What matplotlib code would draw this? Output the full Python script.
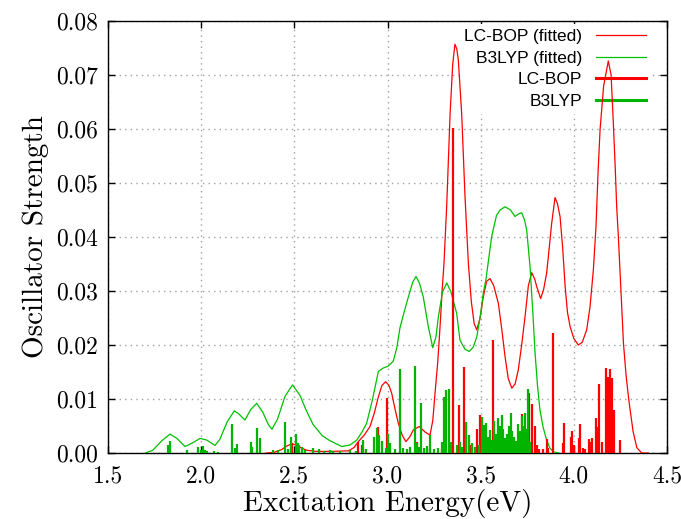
import matplotlib
matplotlib.use("Agg")
import matplotlib.pyplot as plt
from matplotlib.ticker import FormatStrFormatter

# fitted (broadened) spectra
lcbop_fit_x = [2.35, 2.39, 2.43, 2.46, 2.486, 2.51, 2.54, 2.566, 2.62, 2.70, 2.79, 2.82,
               2.843, 2.875, 2.906, 2.93, 2.951, 2.97, 2.990, 3.008, 3.023, 3.04, 3.058,
               3.08, 3.099, 3.12, 3.139, 3.171, 3.201, 3.228, 3.243, 3.255, 3.27, 3.282,
               3.293, 3.303, 3.318, 3.336, 3.350, 3.362, 3.372, 3.380, 3.398, 3.416,
               3.434, 3.45, 3.465, 3.479, 3.497, 3.514, 3.532, 3.550, 3.57, 3.595, 3.613,
               3.631, 3.648, 3.667, 3.685, 3.702, 3.72, 3.738, 3.756, 3.774, 3.790,
               3.801, 3.822, 3.838, 3.854, 3.868, 3.881, 3.899, 3.912, 3.926, 3.940,
               3.953, 3.966, 3.980, 4.00, 4.024, 4.045, 4.069, 4.087, 4.105, 4.119,
               4.13, 4.141, 4.160, 4.185, 4.200, 4.212, 4.222, 4.230, 4.239, 4.257,
               4.266, 4.280, 4.293, 4.302, 4.318, 4.338, 4.364, 4.40]
lcbop_fit_y = [0.0, 0.0001, 0.0006, 0.0013, 0.0017, 0.0015, 0.0009, 0.0005, 0.0003, 0.0003,
               0.0004, 0.0010, 0.0021, 0.0033, 0.0049, 0.0075, 0.0104, 0.0125, 0.0132,
               0.0125, 0.0110, 0.0082, 0.0055, 0.0032, 0.0021, 0.0030, 0.0043, 0.0049,
               0.0039, 0.0033, 0.0060, 0.0110, 0.0170, 0.0234, 0.0300, 0.0350, 0.0460,
               0.0629, 0.0720, 0.0757, 0.0748, 0.0728, 0.0629, 0.0475, 0.0351, 0.0280,
               0.0240, 0.0228, 0.0250, 0.0289, 0.0318, 0.0323, 0.0310, 0.0277, 0.0230,
               0.0178, 0.0138, 0.0120, 0.0128, 0.0154, 0.0200, 0.0252, 0.0310, 0.0334,
               0.0322, 0.0308, 0.0286, 0.0303, 0.0333, 0.0380, 0.0425, 0.0473, 0.0462,
               0.0438, 0.0380, 0.0310, 0.0260, 0.0234, 0.0212, 0.0200, 0.0205, 0.0228,
               0.0271, 0.0340, 0.0420, 0.0520, 0.0600, 0.0680, 0.0726, 0.0700, 0.0611,
               0.0530, 0.0456, 0.0400, 0.0271, 0.0205, 0.0145, 0.0104, 0.0080, 0.0040,
               0.0010, 0.0, 0.0]

b3lyp_fit_x = [1.70, 1.74, 1.79, 1.833, 1.87, 1.913, 1.95, 1.994, 2.03, 2.074, 2.10, 2.14,
               2.178, 2.20, 2.235, 2.265, 2.298, 2.33, 2.36, 2.38, 2.41, 2.45, 2.490,
               2.53, 2.56, 2.60, 2.65, 2.69, 2.754, 2.80, 2.835, 2.865, 2.888, 2.92,
               2.951, 2.975, 3.004, 3.031, 3.05, 3.067, 3.09, 3.112, 3.135, 3.153, 3.172,
               3.192, 3.219, 3.243, 3.26, 3.273, 3.295, 3.318, 3.34, 3.371, 3.389, 3.416,
               3.439, 3.46, 3.479, 3.50, 3.514, 3.529, 3.559, 3.585, 3.604, 3.631, 3.66,
               3.684, 3.705, 3.720, 3.735, 3.747, 3.765, 3.78, 3.792, 3.805, 3.818,
               3.835, 3.854, 3.87, 3.89, 3.92]
b3lyp_fit_y = [0.0, 0.0005, 0.0023, 0.0035, 0.0027, 0.0012, 0.0018, 0.0027, 0.0024, 0.0014,
               0.0025, 0.0058, 0.0078, 0.0073, 0.0061, 0.0080, 0.0092, 0.0076, 0.0053,
               0.0044, 0.0063, 0.0105, 0.0126, 0.0107, 0.0082, 0.0053, 0.0032, 0.0023,
               0.0012, 0.0015, 0.0024, 0.0040, 0.0055, 0.0100, 0.0151, 0.0157, 0.0161,
               0.0170, 0.0195, 0.0232, 0.0262, 0.0289, 0.0316, 0.0327, 0.0314, 0.0289,
               0.0234, 0.0195, 0.0215, 0.0252, 0.0298, 0.0315, 0.0299, 0.0259, 0.0209,
               0.0192, 0.0188, 0.0196, 0.0215, 0.0258, 0.0296, 0.0323, 0.0401, 0.0440,
               0.0450, 0.0456, 0.0450, 0.0438, 0.0443, 0.0445, 0.0432, 0.0413, 0.0345,
               0.0260, 0.0185, 0.0125, 0.0080, 0.0048, 0.0024, 0.0010, 0.0002, 0.0]

# individual excitations (stick spectra)
lcbop_x = [2.486, 2.843, 2.861, 2.870, 2.951, 2.999, 3.010, 3.157, 3.230, 3.290, 3.352,
           3.386, 3.409, 3.420, 3.445, 3.479, 3.497, 3.510, 3.522, 3.568, 3.580, 3.620,
           3.640, 3.660, 3.700, 3.720, 3.761, 3.778, 3.790, 3.800, 3.815, 3.835, 3.854,
           3.862, 3.890, 3.940, 3.947, 3.983, 3.992, 4.002, 4.028, 4.033, 4.050, 4.060,
           4.083, 4.093, 4.100, 4.117, 4.123, 4.137, 4.150, 4.173, 4.183, 4.194, 4.207,
           4.216, 4.248]
lcbop_f = [0.0018, 0.0021, 0.0015, 0.0012, 0.0049, 0.0101, 0.0010, 0.0021, 0.0010, 0.0008,
           0.0602, 0.0089, 0.0159, 0.0030, 0.0015, 0.0045, 0.0070, 0.0035, 0.0025, 0.0209,
           0.0020, 0.0010, 0.0012, 0.0008, 0.0025, 0.0073, 0.0112, 0.0090, 0.0050, 0.0015,
           0.0008, 0.0008, 0.0026, 0.0010, 0.0223, 0.0019, 0.0056, 0.0030, 0.0041, 0.0015,
           0.0027, 0.0053, 0.0010, 0.0008, 0.0026, 0.0020, 0.0027, 0.0064, 0.0049, 0.0128,
           0.0020, 0.0158, 0.0141, 0.0155, 0.0138, 0.0080, 0.0024]

b3lyp_x = [1.822, 1.835, 1.926, 1.981, 1.999, 2.008, 2.021, 2.030, 2.069, 2.090, 2.164,
           2.182, 2.194, 2.266, 2.273, 2.298, 2.316, 2.384, 2.410, 2.450, 2.466, 2.480,
           2.509, 2.520, 2.527, 2.540, 2.555, 2.602, 2.630, 2.660, 2.692, 2.710, 2.745,
           2.799, 2.830, 2.870, 2.885, 2.927, 2.942, 2.956, 2.968, 2.990, 3.004, 3.013,
           3.040, 3.067, 3.085, 3.105, 3.120, 3.146, 3.157, 3.170, 3.180, 3.195, 3.210,
           3.228, 3.250, 3.270, 3.291, 3.302, 3.316, 3.330, 3.340, 3.371, 3.390, 3.400,
           3.421, 3.440, 3.452, 3.470, 3.490, 3.505, 3.518, 3.529, 3.540, 3.550, 3.560,
           3.572, 3.582, 3.595, 3.605, 3.613, 3.622, 3.630, 3.640, 3.652, 3.661, 3.670,
           3.680, 3.690, 3.702, 3.710, 3.720, 3.730, 3.738, 3.748, 3.756, 3.765]
b3lyp_f = [0.0015, 0.0023, 0.0005, 0.0012, 0.0006, 0.0013, 0.0006, 0.0004, 0.0004, 0.0002,
           0.0054, 0.0009, 0.0017, 0.0021, 0.0011, 0.0047, 0.0027, 0.0006, 0.0005, 0.0058,
           0.0008, 0.0029, 0.0036, 0.0018, 0.0015, 0.0012, 0.0006, 0.0009, 0.0007, 0.0004,
           0.0006, 0.0004, 0.0003, 0.0005, 0.0004, 0.0024, 0.0008, 0.0030, 0.0046, 0.0033,
           0.0022, 0.0010, 0.0036, 0.0018, 0.0008, 0.0155, 0.0010, 0.0008, 0.0012, 0.0161,
           0.0019, 0.0012, 0.0093, 0.0010, 0.0013, 0.0034, 0.0008, 0.0010, 0.0021, 0.0104,
           0.0116, 0.0118, 0.0020, 0.0014, 0.0021, 0.0012, 0.0058, 0.0033, 0.0018, 0.0012,
           0.0015, 0.0067, 0.0052, 0.0056, 0.0030, 0.0043, 0.0025, 0.0060, 0.0035, 0.0064,
           0.0050, 0.0070, 0.0045, 0.0028, 0.0035, 0.0050, 0.0075, 0.0040, 0.0030, 0.0022,
           0.0053, 0.0040, 0.0069, 0.0050, 0.0074, 0.0045, 0.0118, 0.0020]

xticks = [1.5, 2.0, 2.5, 3.0, 3.5, 4.0, 4.5]
yticks = [0.0, 0.01, 0.02, 0.03, 0.04, 0.05, 0.06, 0.07, 0.08]

red = '#ff0000'
green = '#00b400'

fig = plt.figure(figsize=(6.81, 5.19), dpi=100)
ax = fig.add_axes([108 / 681, 66 / 519, 559 / 681, 432 / 519])

ax.plot(lcbop_fit_x, lcbop_fit_y, color=red, lw=0.9, label='LC-BOP (fitted)', zorder=3)
ax.plot(b3lyp_fit_x, b3lyp_fit_y, color='#00c000', lw=0.9, label='B3LYP (fitted)', zorder=3)
ax.vlines(lcbop_x, 0, lcbop_f, color=red, lw=1.6, zorder=4)
ax.vlines(b3lyp_x, 0, b3lyp_f, color=green, lw=1.6, zorder=4)
# legend proxies for the thick stick series
ax.plot([], [], color=red, lw=2.2, label='LC-BOP')
ax.plot([], [], color=green, lw=2.2, label='B3LYP')

ax.set_xlim(1.5, 4.5)
ax.set_ylim(0, 0.08)
ax.set_xticks(xticks)
ax.set_yticks(yticks)
ax.xaxis.set_major_formatter(FormatStrFormatter('%.1f'))
ax.yaxis.set_major_formatter(FormatStrFormatter('%.2f'))
ax.tick_params(direction='in', top=True, right=True, length=5, width=1, labelsize=17)
ax.tick_params(axis='x', pad=9)
ax.tick_params(axis='y', pad=7)
for lbl in ax.get_xticklabels() + ax.get_yticklabels():
    lbl.set_family('cmr10')

ax.set_axisbelow(True)
ax.grid(True, color='#a0a0a0', lw=1.0, linestyle=(0, (1, 3)))
for sp in ax.spines.values():
    sp.set_linewidth(1.0)

ax.set_xlabel('Excitation Energy(eV)', family='cmr10', fontsize=21, labelpad=1)
ax.set_ylabel('Oscillator Strength', family='cmr10', fontsize=21, labelpad=5)

leg = ax.legend(loc='upper right', bbox_to_anchor=(0.986, 1.012), markerfirst=False,
                frameon=True, fancybox=False, edgecolor='none', facecolor='white',
                framealpha=1, prop={'family': 'Liberation Sans', 'size': 12.5},
                handlelength=2.9, handletextpad=0.8, labelspacing=0.38, borderpad=0.25)
leg.set_zorder(2)

fig.savefig('out.png', dpi=100)
